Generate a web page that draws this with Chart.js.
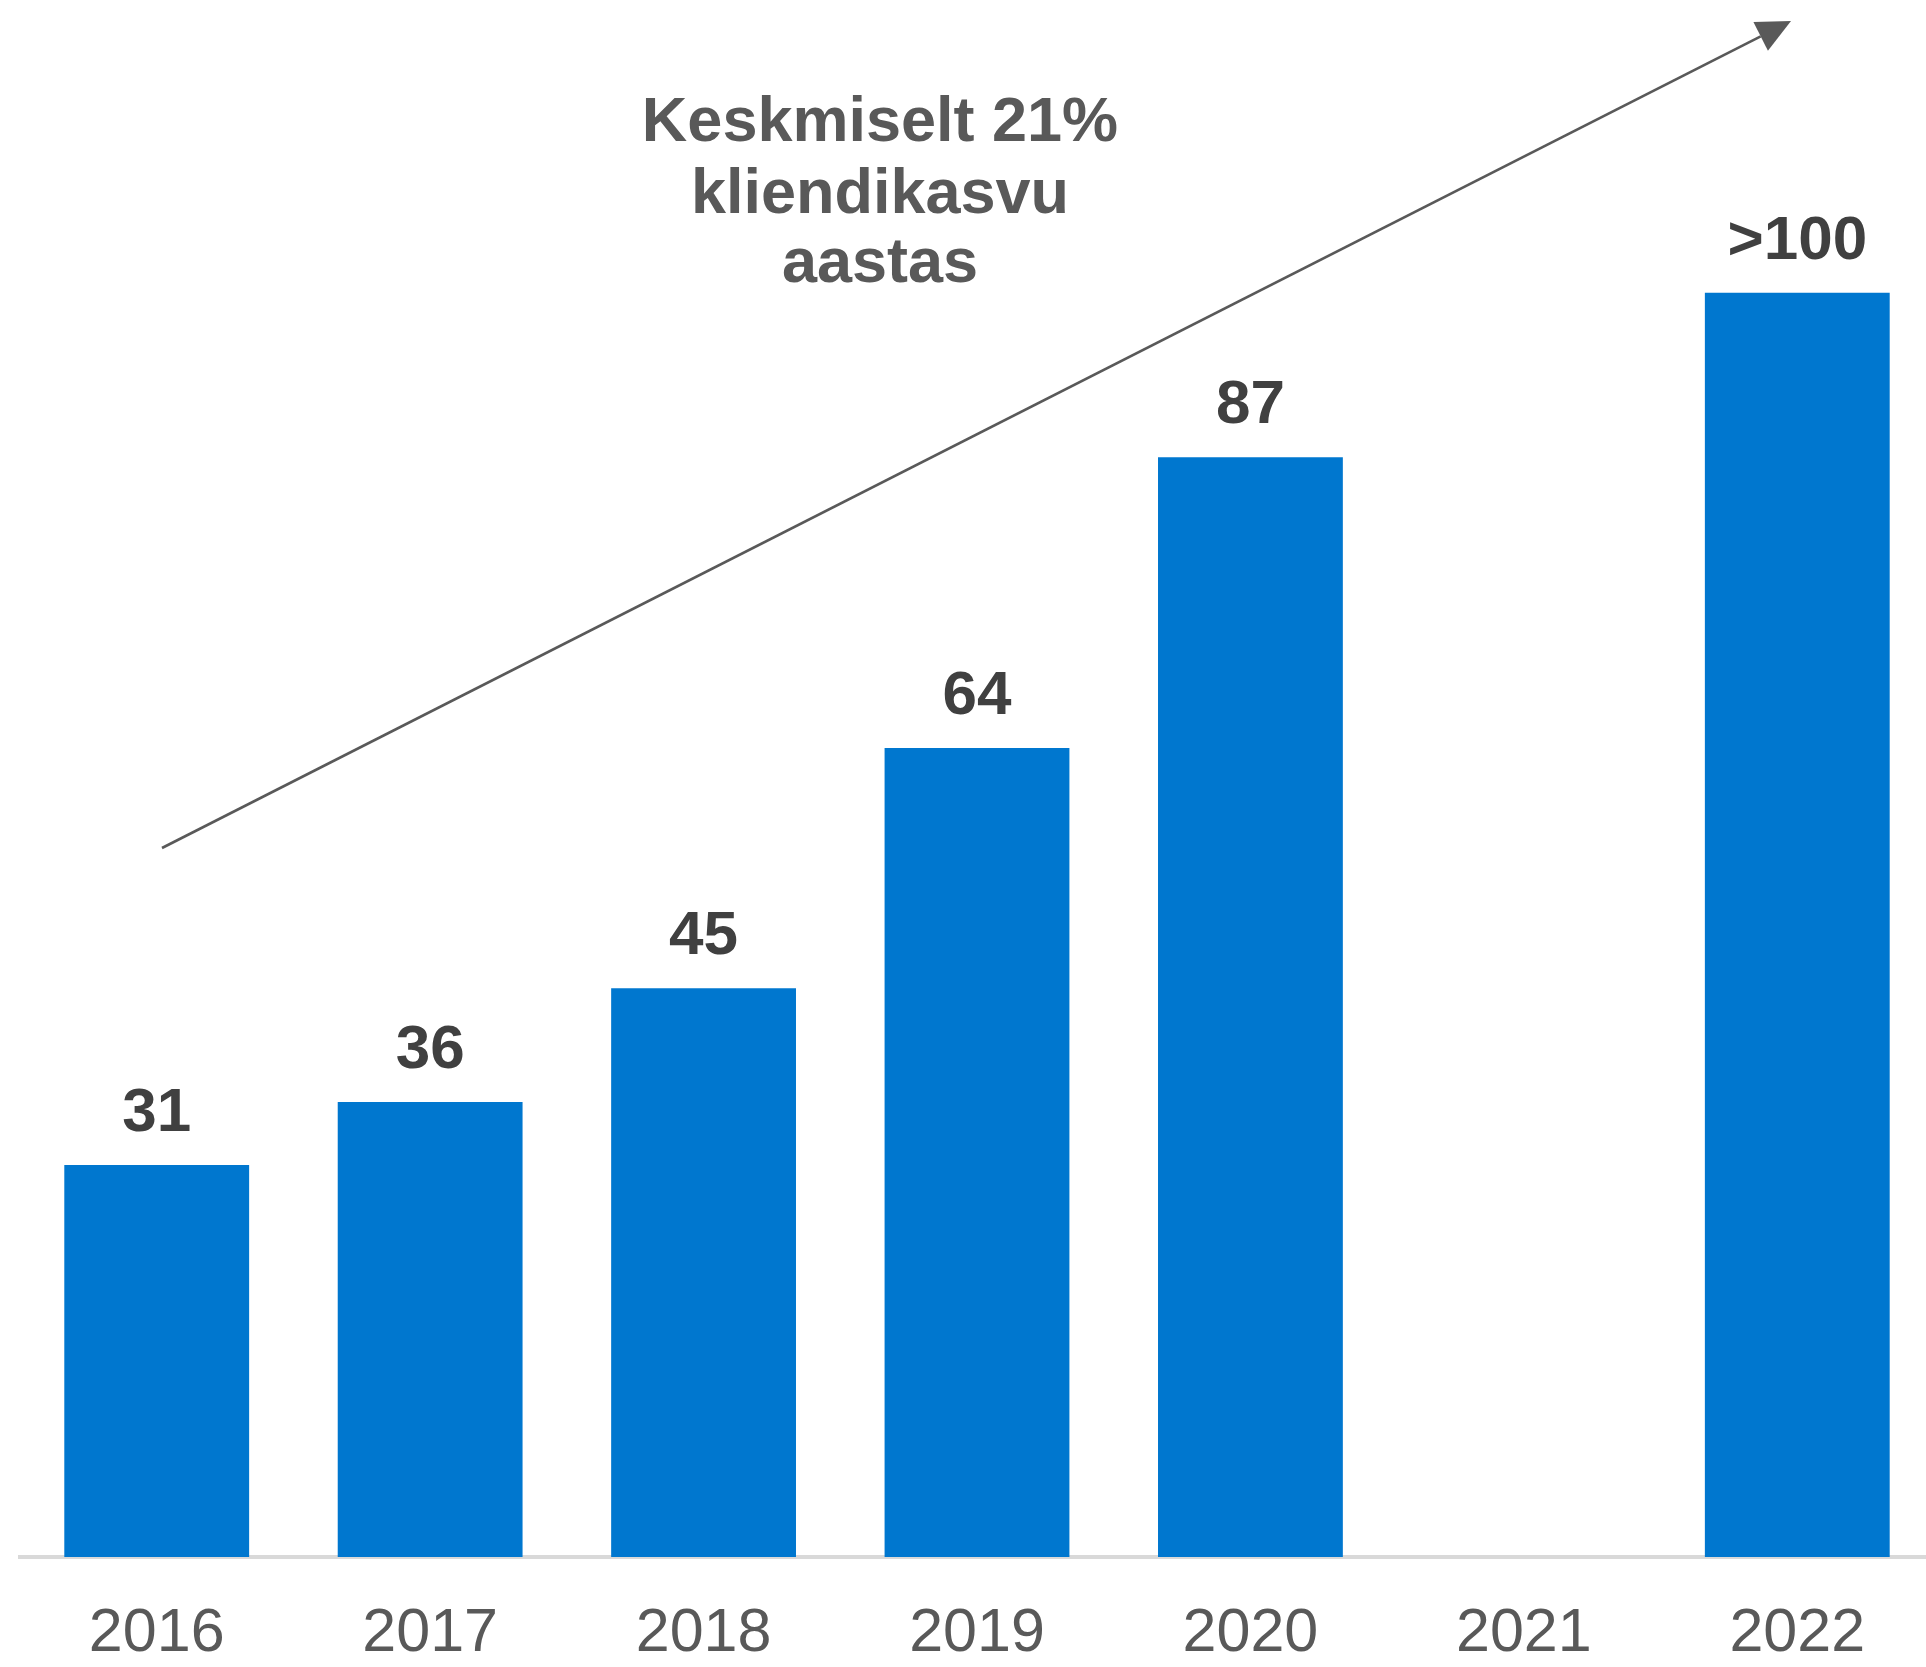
<!DOCTYPE html>
<html>
<head>
<meta charset="utf-8">
<script src="https://cdn.jsdelivr.net/npm/chart.js@4"></script>
<style>
  html, body { margin: 0; padding: 0; background: #fff; overflow: hidden; }
</style>
</head>
<body>
<canvas id="graphic" width="1936" height="1667"></canvas>
<script>
// Kliendid aastate kaupa
var years = ['2016', '2017', '2018', '2019', '2020', '2021', '2022'];
var clients = [31, 36, 45, 64, 87, null, 100];
var labelPrefix = ['', '', '', '', '', '', '>'];
var growthText = ['Keskmiselt 21%', 'kliendikasvu', 'aastas'];

var FONT = '"Liberation Sans", Arial, sans-serif';
var BAR = '#0077cf';
var GREY = '#595959';

// numbrid tulpade kohal
var valueLabels = {
  id: 'valueLabels',
  afterDatasetsDraw: function (chart) {
    var ctx = chart.ctx;
    var meta = chart.getDatasetMeta(0);
    ctx.save();
    ctx.font = 'bold 62px ' + FONT;
    ctx.fillStyle = '#404040';
    ctx.textAlign = 'center';
    ctx.textBaseline = 'alphabetic';
    meta.data.forEach(function (bar, i) {
      if (clients[i] == null) return;
      ctx.fillText(labelPrefix[i] + clients[i], bar.x, bar.y - 34);
    });
    ctx.restore();
  }
};

// kasvunool ja tekst
var growthArrow = {
  id: 'growthArrow',
  afterDraw: function (chart) {
    var ctx = chart.ctx;
    var x0 = 162, y0 = 848, x1 = 1791, y1 = 21;
    var ang = Math.atan2(y1 - y0, x1 - x0);
    var len = 34, half = 16;
    var bx = x1 - len * Math.cos(ang), by = y1 - len * Math.sin(ang);

    ctx.save();
    ctx.strokeStyle = GREY;
    ctx.fillStyle = GREY;
    ctx.lineWidth = 2.6;
    ctx.beginPath();
    ctx.moveTo(x0, y0);
    ctx.lineTo(bx, by);
    ctx.stroke();

    ctx.beginPath();
    ctx.moveTo(x1, y1);
    ctx.lineTo(bx - half * Math.sin(ang), by + half * Math.cos(ang));
    ctx.lineTo(bx + half * Math.sin(ang), by - half * Math.cos(ang));
    ctx.closePath();
    ctx.fill();

    ctx.font = 'bold 63px ' + FONT;
    ctx.textAlign = 'center';
    ctx.textBaseline = 'alphabetic';
    var baselines = [141, 213, 282];
    growthText.forEach(function (line, i) {
      ctx.fillText(line, 880, baselines[i]);
    });
    ctx.restore();
  }
};

var ctx = document.getElementById('graphic').getContext('2d');

var chart = new Chart(ctx, {
  type: 'bar',
  data: {
    labels: years,
    datasets: [{
      data: clients,
      backgroundColor: BAR,
      borderWidth: 0,
      barPercentage: 0.676,
      categoryPercentage: 1
    }]
  },
  options: {
    responsive: false,
    animation: false,
    layout: { padding: { top: 40, left: 20, right: 2, bottom: 0 } },
    plugins: {
      legend: { display: false },
      tooltip: { enabled: false }
    },
    scales: {
      x: {
        z: 1,
        grid: { color: 'transparent', drawTicks: false },
        border: { display: true, color: '#d9d9d9', width: 4 },
        ticks: {
          color: GREY,
          padding: 41,
          font: { family: FONT, size: 61 }
        },
        afterFit: function (scale) { scale.height = 110; }
      },
      y: {
        display: false,
        min: 0,
        max: 120
      }
    }
  },
  plugins: [valueLabels, growthArrow]
});
</script>
</body>
</html>
